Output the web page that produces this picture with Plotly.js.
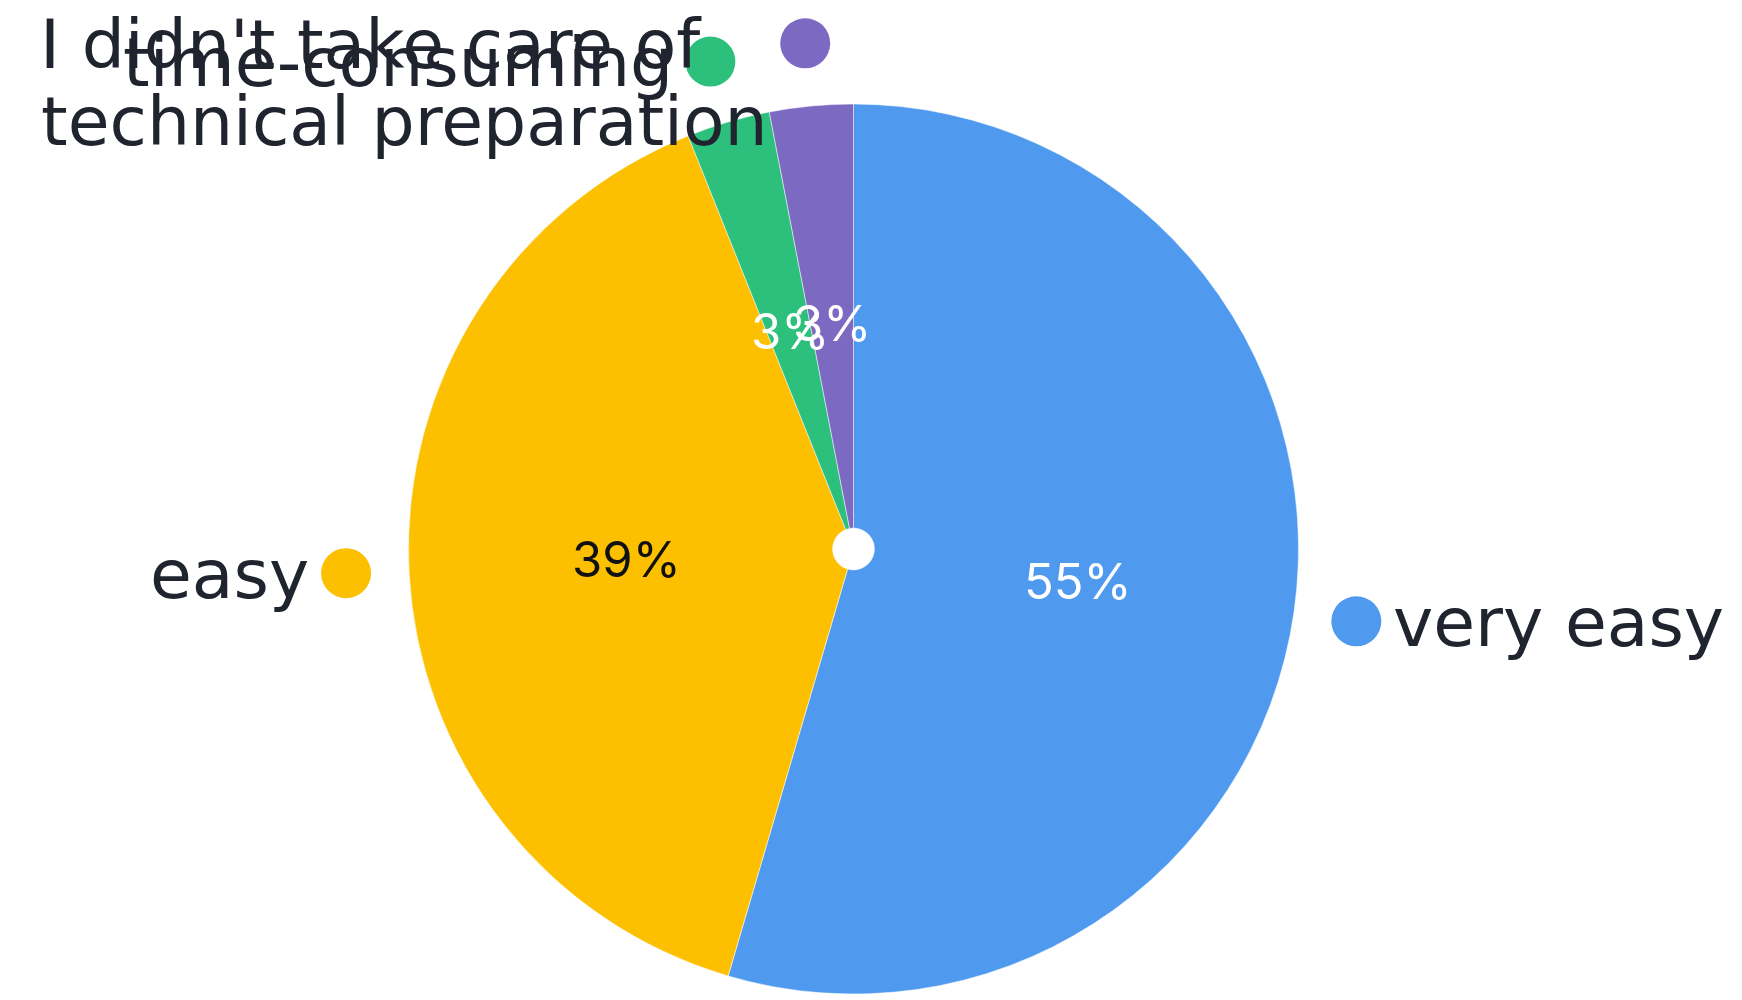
<!DOCTYPE html>
<html>
<head>
<meta charset="utf-8">
<script src="https://cdn.plot.ly/plotly-3.0.1.min.js"></script>
<style>
  html, body { margin: 0; padding: 0; background: #ffffff; }
  #chart { width: 1742px; height: 1000px; }
</style>
</head>
<body>
<div id="chart"></div>
<script>
// ---- data ----
const categories = [
  "very easy",
  "easy",
  "time-consuming",
  "I didn't take care of<br>technical preparation"
];
const responses = [18, 13, 1, 1];

// ---- styles ----
const sliceColors = ["#4f9aef", "#fcc000", "#2dbf7c", "#7b69c2"];
const pctColors = ["#ffffff", "#111111", "#ffffff", "#ffffff"];
const labelColor = "#20242f";
const labelFont = "'DejaVu Sans', sans-serif";
const pctFont = "Inter, 'Noto Sans', sans-serif";
const labelSize = 68;

const W = 1742, H = 1000;
const M = { l: 0, r: 35, t: 104, b: 6 };
const plotW = W - M.l - M.r, plotH = H - M.t - M.b;
const cx = M.l + plotW / 2, cy = M.t + plotH / 2;
const R = Math.min(plotW, plotH) / 2;

const total = responses.reduce((a, b) => a + b, 0);

const annotations = [];
const shapes = [];
const toPX = px => (px - M.l) / plotW;
const toPY = py => 1 - (py - M.t) / plotH;

let cum = 0;
responses.forEach((v, i) => {
  const frac = v / total;
  const mid = (cum + frac / 2) * 2 * Math.PI; // clockwise from top
  cum += frac;
  const s = Math.sin(mid), c = Math.cos(mid);

  // percentage label
  const pr = 0.51 * R;
  annotations.push({
    xref: "paper", yref: "paper",
    x: toPX(cx + pr * s), y: toPY(cy - pr * c),
    xanchor: "center", yanchor: "middle",
    text: Math.round(frac * 100) + "%",
    showarrow: false,
    font: { family: pctFont, size: 49, color: pctColors[i] }
  });

  // dot
  const dr = R + 63;
  const dx = cx + dr * s, dy = cy - dr * c;
  const dotR = 25;
  shapes.push({
    type: "circle", xref: "paper", yref: "paper",
    xsizemode: "pixel", ysizemode: "pixel",
    xanchor: toPX(dx), yanchor: toPY(dy),
    x0: -dotR, x1: dotR, y0: -dotR, y1: dotR,
    fillcolor: sliceColors[i], line: { width: 0 }
  });

  // category label (one annotation per line, left-aligned block)
  const right = s > 0.0001;
  const lineH = 77;
  const lines = categories[i].split("<br>");
  lines.forEach((ln, k) => {
    annotations.push({
      xref: "paper", yref: "paper",
      x: toPX(dx + (right ? dotR + 10 : -dotR - 10)),
      y: toPY(dy + 1 + k * lineH),
      xanchor: right ? "left" : "right",
      yanchor: "middle",
      text: ln,
      showarrow: false,
      font: { family: labelFont, size: labelSize, color: labelColor },
      _block: i
    });
  });
});

const trace = {
  type: "pie",
  labels: categories,
  values: responses,
  sort: false,
  direction: "clockwise",
  rotation: 0,
  hole: 0.047,
  textinfo: "none",
  marker: { colors: sliceColors, line: { color: "#ffffff", width: 0.5 } },
  showlegend: false,
  hoverinfo: "label+percent"
};

// left-align lines within a multi-line block on the left side
const ctx = document.createElement("canvas").getContext("2d");
ctx.font = labelSize + "px 'DejaVu Sans'";
const blocks = {};
annotations.forEach(a => {
  if (a._block === undefined) return;
  (blocks[a._block] = blocks[a._block] || []).push(a);
});
Object.values(blocks).forEach(list => {
  if (list.length < 2 || list[0].xanchor !== "right") return;
  const widths = list.map(a => ctx.measureText(a.text).width);
  const maxW = Math.max(...widths);
  list.forEach((a, k) => { a.xshift = -(maxW - widths[k]); });
});
annotations.forEach(a => { delete a._block; });

Plotly.newPlot("chart", [trace], {
  width: W, height: H,
  margin: M,
  paper_bgcolor: "#ffffff",
  showlegend: false,
  annotations: annotations,
  shapes: shapes
}, { displayModeBar: false, staticPlot: true });
</script>
</body>
</html>
